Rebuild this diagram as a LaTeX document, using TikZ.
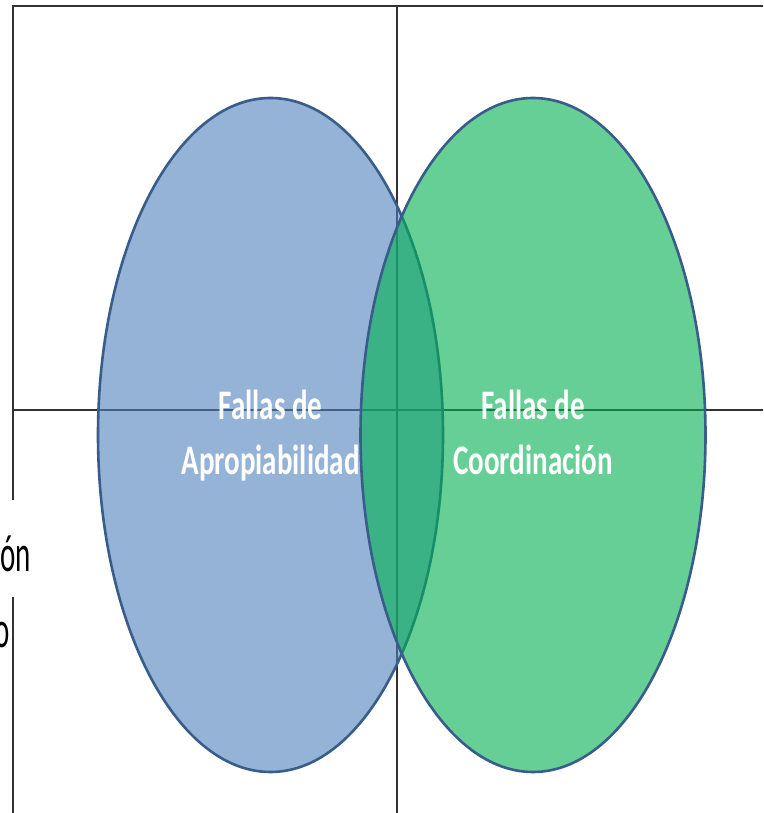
\documentclass[tikz,border=0pt]{standalone}
\usepackage{fontspec}
\setmainfont{Carlito}
\usetikzlibrary{shapes.geometric}

\definecolor{blu}{HTML}{4F81BD}
\definecolor{grn}{HTML}{00B050}
\definecolor{edge}{HTML}{385D8A}

\tikzstyle{ax} = [draw = black!80, line width = 1.3pt]
\tikzstyle{e} = [ellipse, minimum width = 345pt, minimum height = 674pt, inner sep = 0pt, draw = edge, line width = 2.6pt, fill opacity = 0.6]
\tikzstyle{w} = [text = white, align = center, anchor = north, font = \bfseries\fontsize{29}{38}\selectfont, yscale = 1.45, transform shape]
\tikzstyle{k} = [text = black, font = \fontsize{29}{35}\selectfont, yscale = 1.8, transform shape, inner sep = 0pt]

\begin{document}
\begin{tikzpicture}[x = 1pt, y = 1pt]
        \clip (0,0) rectangle (763,813);
        \fill[white] (0,0) rectangle (763,813);
        % axes and frame
        \coordinate (tl) at (12,807);
        \coordinate (tr) at (763,807);
        \coordinate (la) at (13,807);
        \coordinate (lb) at (13,313);
        \coordinate (lc) at (13,216);
        \coordinate (ld) at (13,0);
        \coordinate (hl) at (13,403);
        \coordinate (hr) at (763,403);
        \coordinate (vt) at (397,807);
        \coordinate (vb) at (397,0);
        \draw[ax, line width = 2.4pt] (tl) -- (tr);
        \draw[ax] (la) -- (lb);
        \draw[ax] (lc) -- (ld);
        \draw[ax] (hl) -- (hr);
        \draw[ax] (vt) -- (vb);
        % sets
        \node[e, fill = blu] (apro) at (270.5,378) {};
        \node[e, fill = grn] (coor) at (533,378) {};
        \node[w] (tapro) at (270.5,428) {Fallas de\\Apropiabilidad};
        \node[w] (tcoor) at (533,428) {Fallas de\\Coordinación};
        % cut text on the left
        \node[k, anchor = base east] (ka) at (31,241) {ón};
        \node[k, anchor = base east] (kb) at (10,165) {o};
    \end{tikzpicture}
\end{document}
